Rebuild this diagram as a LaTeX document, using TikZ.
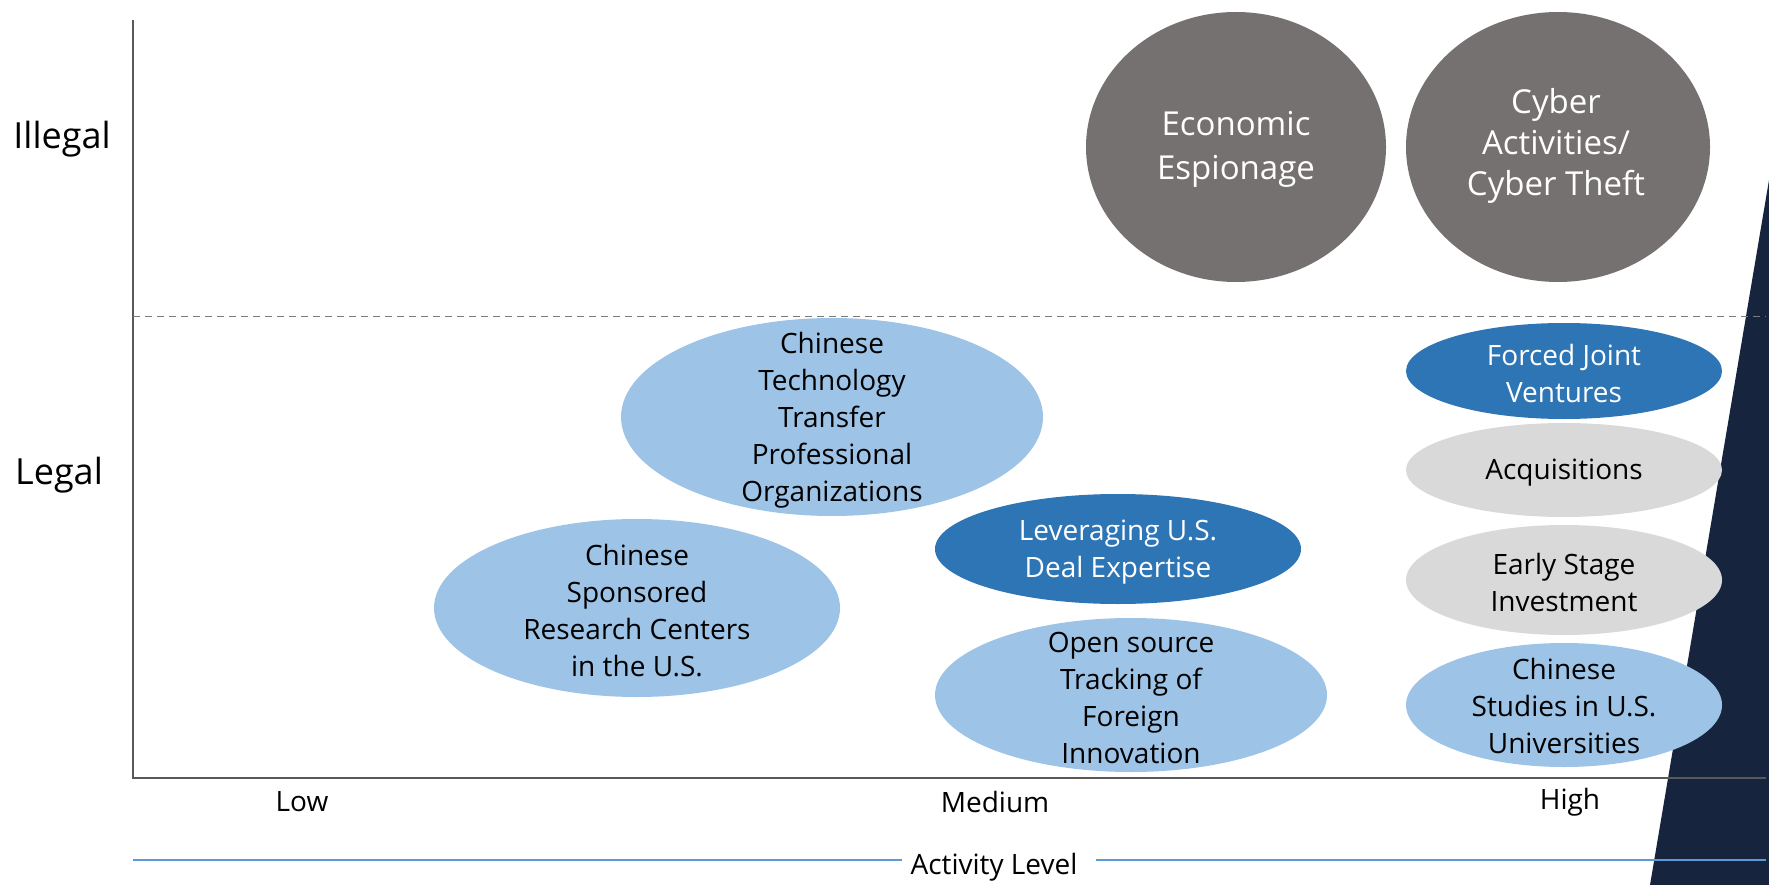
\documentclass[tikz,border=0pt]{standalone}
\usepackage{fontspec}
\setmainfont{Open Sans}
\definecolor{navy}{HTML}{16243E}
\definecolor{darkgray}{HTML}{767171}
\definecolor{lightblue}{HTML}{9DC3E6}
\definecolor{midblue}{HTML}{2E75B6}
\definecolor{lightgray}{HTML}{D9D9D9}
\definecolor{axisgray}{HTML}{595959}
\definecolor{lineblue}{HTML}{5B9BD5}
\tikzset{
  x=1pt, y=-1pt,
  btext/.style={align=center, font=\fontsize{28}{37}\selectfont, text=black, inner sep=0pt},
  wtext/.style={btext, text=white},
  axlabel/.style={font=\fontsize{28}{32}\selectfont, inner sep=0pt},
  ylabel/.style={font=\fontsize{36}{40}\selectfont, inner sep=0pt},
}
\begin{document}
\begin{tikzpicture}
\useasboundingbox (0,0) rectangle (1769,885);
% navy wedge
\fill[navy] (1769,180) -- (1650,885) -- (1769,885) -- cycle;
% axes
\coordinate (axtop) at (133,20);
\coordinate (axorig) at (133,778);
\coordinate (axright) at (1766,778);
\coordinate (dashl) at (133,316);
\coordinate (dashr) at (1766,316);
\draw[axisgray, line width=1.5pt] (axtop) -- (axorig) -- (axright);
\draw[axisgray!80, line width=1pt, dash pattern=on 7pt off 5pt] (dashl) -- (dashr);
% y labels
\node[ylabel] (illegal) at (62,139) {Illegal};
\node[ylabel] (legal) at (59,475) {Legal};
% x labels
\node[axlabel] (low) at (302,802) {Low};
\node[axlabel] (medium) at (995,802) {Medium};
\node[axlabel] (high) at (1570,802) {High};
\node[axlabel] (activity) at (994,867) {Activity Level};
\coordinate (bl1) at (133,860);
\coordinate (bl2) at (1766,860);
\draw[lineblue, line width=1.2pt] (bl1) -- (902,860);
\draw[lineblue, line width=1.2pt] (1096,860) -- (bl2);
% ellipses
\fill[darkgray] (1236,147) ellipse [x radius=150, y radius=135];
\node[wtext, font=\fontsize{33}{44}\selectfont] (econ) at (1236,149) {Economic\\Espionage};
\fill[darkgray] (1558,147) ellipse [x radius=152, y radius=135];
\node[wtext, font=\fontsize{33}{41}\selectfont] (cyber) at (1556,146) {Cyber\\Activities/\\Cyber Theft};
\fill[lightblue] (832,417) ellipse [x radius=211, y radius=99];
\node[btext] (ctt) at (832,420) {Chinese\\Technology\\Transfer\\Professional\\Organizations};
\fill[lightblue] (637,608) ellipse [x radius=203, y radius=89];
\node[btext] (csr) at (637,611) {Chinese\\Sponsored\\Research Centers\\in the U.S.};
\fill[midblue] (1118,549) ellipse [x radius=183, y radius=55];
\node[wtext] (lev) at (1118,552) {Leveraging U.S.\\Deal Expertise};
\fill[lightblue] (1131,695) ellipse [x radius=196, y radius=77];
\node[btext] (open) at (1131,698) {Open source\\Tracking of\\Foreign\\Innovation};
\fill[midblue] (1564,371) ellipse [x radius=158, y radius=48];
\node[wtext] (fjv) at (1564,373) {Forced Joint\\Ventures};
\fill[lightgray] (1564,470) ellipse [x radius=158, y radius=47];
\node[btext] (acq) at (1564,473) {Acquisitions};
\fill[lightgray] (1564,580) ellipse [x radius=158, y radius=55];
\node[btext] (esi) at (1564,582) {Early Stage\\Investment};
\fill[lightblue] (1564,705) ellipse [x radius=158, y radius=62];
\node[btext] (csu) at (1564,706) {Chinese\\Studies in U.S.\\Universities};
\end{tikzpicture}
\end{document}
